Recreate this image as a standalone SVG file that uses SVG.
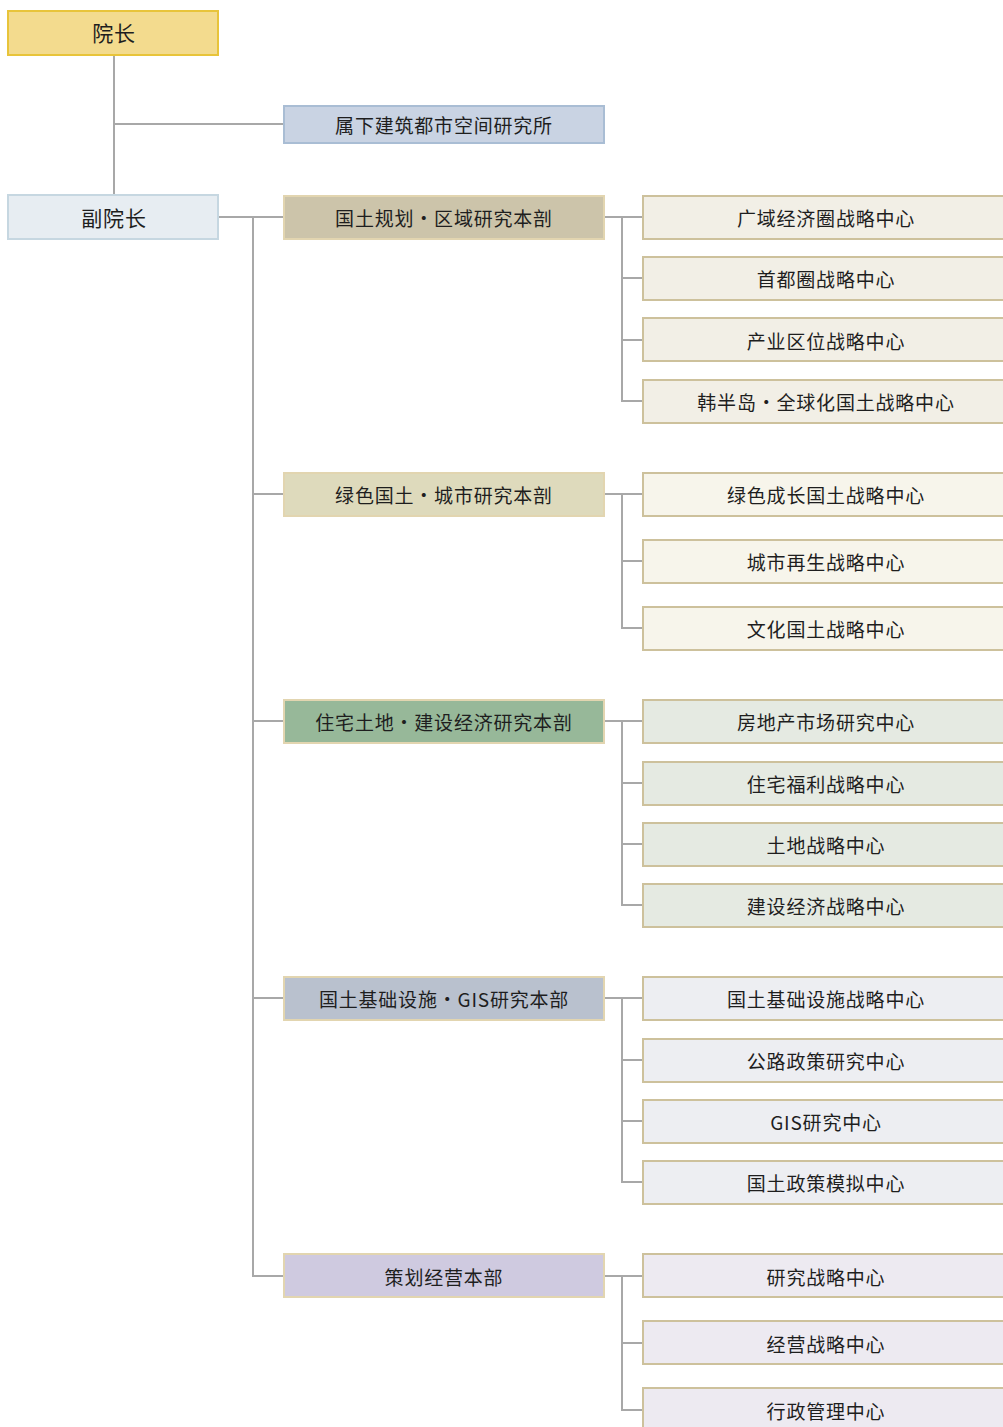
<svg xmlns="http://www.w3.org/2000/svg" width="1003" height="1427" viewBox="0 0 1003 1427">
<style>
text{font-family:"Noto Sans CJK SC","Noto Sans CJK KR",sans-serif;font-size:19px;letter-spacing:0.8px;fill:#1e1e1e;text-anchor:middle;dominant-baseline:central}
.big{font-size:21px}
.ln{stroke:#A8A8A8;stroke-width:2;fill:none}
.c1{fill:#F2EFE6;stroke:#CDC19C;stroke-width:2}
.c2{fill:#F7F5EB;stroke:#CDC19C;stroke-width:2}
.c3{fill:#E5EAE2;stroke:#CDC19C;stroke-width:2}
.c4{fill:#EDEEF2;stroke:#CDC19C;stroke-width:2}
.c5{fill:#EDEAF1;stroke:#CDC19C;stroke-width:2}
.d{stroke:#E2D5B0;stroke-width:2}
</style>
<rect width="1003" height="1427" fill="#fff"/>
<g id="connectors">
<path class="ln" d="M114 55V195M114 124H284M218 217H284M253 217V1276H284M253 494H284M253 721H284M253 998H284"/>
<path class="ln" d="M604 217H643M622 217V401H643M622 278H643M622 340H643"/>
<path class="ln" d="M604 494H643M622 494V628H643M622 561H643"/>
<path class="ln" d="M604 721H643M622 721V905H643M622 783H643M622 844H643"/>
<path class="ln" d="M604 998H643M622 998V1182H643M622 1060H643M622 1121H643"/>
<path class="ln" d="M604 1276H643M622 1276V1410H643M622 1343H643"/>
</g>
<g id="president"><rect x="8" y="11" width="210" height="44" fill="#F3DB8E" stroke="#E8C43A" stroke-width="2"/><text class="big" x="114" y="32">院长</text></g>
<g id="institute"><rect x="284" y="106" width="320" height="37" fill="#C9D3E3" stroke="#A9BDD4" stroke-width="2"/><text x="444" y="124">属下建筑都市空间研究所</text></g>
<g id="vp"><rect x="8" y="195" width="210" height="44" fill="#E7EDF2" stroke="#C6D7E1" stroke-width="2"/><text class="big" x="114" y="217">副院长</text></g>

<g id="dept1"><rect class="d" x="284" y="196" width="320" height="43" fill="#CCC4AA"/><text x="444" y="217">国土规划・区域研究本剖</text></g>
<g id="c1a"><rect class="c1" x="643" y="196" width="362" height="43"/><text x="826" y="217">广域经济圈战略中心</text></g>
<g id="c1b"><rect class="c1" x="643" y="257" width="362" height="43"/><text x="826" y="278">首都圈战略中心</text></g>
<g id="c1c"><rect class="c1" x="643" y="318" width="362" height="43"/><text x="826" y="340">产业区位战略中心</text></g>
<g id="c1d"><rect class="c1" x="643" y="380" width="362" height="43"/><text x="826" y="401">韩半岛・全球化国土战略中心</text></g>

<g id="dept2"><rect class="d" x="284" y="473" width="320" height="43" fill="#DEDABC"/><text x="444" y="494">绿色国土・城市研究本剖</text></g>
<g id="c2a"><rect class="c2" x="643" y="473" width="362" height="43"/><text x="826" y="494">绿色成长国土战略中心</text></g>
<g id="c2b"><rect class="c2" x="643" y="540" width="362" height="43"/><text x="826" y="561">城市再生战略中心</text></g>
<g id="c2c"><rect class="c2" x="643" y="607" width="362" height="43"/><text x="826" y="628">文化国土战略中心</text></g>

<g id="dept3"><rect class="d" x="284" y="700" width="320" height="43" fill="#97B899"/><text x="444" y="721">住宅土地・建设经济研究本剖</text></g>
<g id="c3a"><rect class="c3" x="643" y="700" width="362" height="43"/><text x="826" y="721">房地产市场研究中心</text></g>
<g id="c3b"><rect class="c3" x="643" y="762" width="362" height="43"/><text x="826" y="783">住宅福利战略中心</text></g>
<g id="c3c"><rect class="c3" x="643" y="823" width="362" height="43"/><text x="826" y="844">土地战略中心</text></g>
<g id="c3d"><rect class="c3" x="643" y="884" width="362" height="43"/><text x="826" y="905">建设经济战略中心</text></g>

<g id="dept4"><rect class="d" x="284" y="977" width="320" height="43" fill="#B9C1CE"/><text x="444" y="998">国土基础设施・GIS研究本部</text></g>
<g id="c4a"><rect class="c4" x="643" y="977" width="362" height="43"/><text x="826" y="998">国土基础设施战略中心</text></g>
<g id="c4b"><rect class="c4" x="643" y="1039" width="362" height="43"/><text x="826" y="1060">公路政策研究中心</text></g>
<g id="c4c"><rect class="c4" x="643" y="1100" width="362" height="43"/><text x="826" y="1121">GIS研究中心</text></g>
<g id="c4d"><rect class="c4" x="643" y="1161" width="362" height="43"/><text x="826" y="1182">国土政策模拟中心</text></g>

<g id="dept5"><rect class="d" x="284" y="1254" width="320" height="43" fill="#CFCAE0"/><text x="444" y="1276">策划经营本部</text></g>
<g id="c5a"><rect class="c5" x="643" y="1254" width="362" height="43"/><text x="826" y="1276">研究战略中心</text></g>
<g id="c5b"><rect class="c5" x="643" y="1321" width="362" height="43"/><text x="826" y="1343">经营战略中心</text></g>
<g id="c5c"><rect class="c5" x="643" y="1388" width="362" height="43"/><text x="826" y="1410">行政管理中心</text></g>
</svg>
